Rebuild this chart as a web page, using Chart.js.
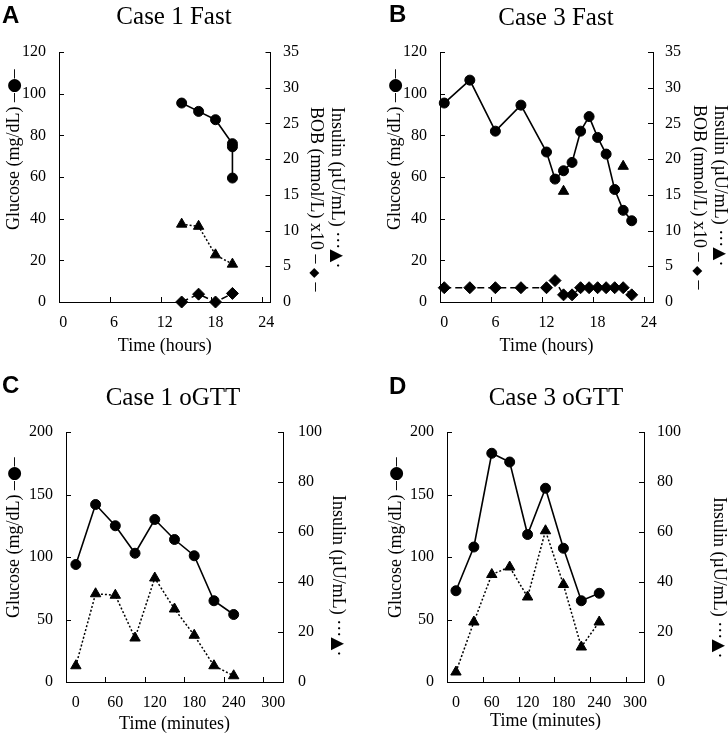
<!DOCTYPE html>
<html lang="en">
<head>
<meta charset="UTF-8">
<title>Case 1 / Case 3 fast and oGTT</title>
<script src="https://cdn.jsdelivr.net/npm/chart.js"></script>
<style>
  body { margin: 0; width: 728px; height: 739px; position: relative; overflow: hidden; background: #fff;
         font-family: 'Liberation Serif', 'Times New Roman', serif; color: #000; }
  canvas { position: absolute; }
  .letter { position: absolute; font: bold 24px 'Liberation Sans', Arial, sans-serif; line-height: 24px; }
  .title { position: absolute; font-size: 25px; line-height: 25px; white-space: nowrap; transform: translateX(-50%); }
  .ytl, .ytr { position: absolute; font-size: 18px; line-height: 21px; white-space: nowrap; transform-origin: 0 0; }
  .ytl { transform: rotate(-90deg); }
  .ytr { transform: rotate(90deg); }
  .sym { font-family: 'DejaVu Sans', sans-serif; font-size: 17px; }
  .dia { font-family: 'DejaVu Sans', sans-serif; font-size: 13px; }
</style>
</head>
<body>
<canvas id="cA" width="364" height="370" style="left:0;top:0"></canvas>
<canvas id="cB" width="364" height="370" style="left:364px;top:0"></canvas>
<canvas id="cC" width="364" height="369" style="left:0;top:370px"></canvas>
<canvas id="cD" width="364" height="369" style="left:364px;top:370px"></canvas>

<div class="letter" style="left:2px;top:3px">A</div>
<div class="letter" style="left:389px;top:2px">B</div>
<div class="letter" style="left:2px;top:373px">C</div>
<div class="letter" style="left:389px;top:374px">D</div>

<div class="title" style="left:174px;top:3px">Case 1 Fast</div>
<div class="title" style="left:556px;top:4px">Case 3 Fast</div>
<div class="title" style="left:173px;top:384px">Case 1 oGTT</div>
<div class="title" style="left:556px;top:384px">Case 3 oGTT</div>

<div class="ytl" style="left:2.5px;top:230px">Glucose (mg/dL) –<span class="sym">●</span>–</div>
<div class="ytl" style="left:383.5px;top:230px">Glucose (mg/dL) –<span class="sym">●</span>–</div>
<div class="ytl" style="left:2.5px;top:618px">Glucose (mg/dL) –<span class="sym">●</span>–</div>
<div class="ytl" style="left:385px;top:618px">Glucose (mg/dL) –<span class="sym">●</span>–</div>

<div class="ytr" style="left:347.5px;top:107px">Insulin (µU/mL) ···<span class="sym">▲</span>·<br>BOB (mmol/L) x10 – <span class="dia">◆</span> –</div>
<div class="ytr" style="left:730.5px;top:105px">Insulin (µU/mL) ···<span class="sym">▲</span>·<br>BOB (mmol/L) x10 – <span class="dia">◆</span> –</div>
<div class="ytr" style="left:348.5px;top:495px">Insulin (µU/mL) ···<span class="sym">▲</span>·</div>
<div class="ytr" style="left:729.5px;top:497px">Insulin (µU/mL) ···<span class="sym">▲</span>·</div>

<script>
// tick labels
const fastTicks = [0, 6, 12, 18, 24];
const gttTicks = [0, 60, 120, 180, 240, 300];

// Case 1 fast (hours)
const c1FastGlucoseTime = [14, 16, 18, 20, 20, 20];
const c1FastGlucose = [95.5, 91.5, 87.5, 76, 74.5, 59.5];
const c1FastInsulinTime = [14, 16, 18, 20];
const c1FastInsulin = [10.9, 10.6, 6.6, 5.3];
const c1FastBobTime = [14, 16, 18, 20];
const c1FastBob = [0, 1.1, 0, 1.2];

// Case 3 fast (hours)
const c3FastGlucoseTime = [0, 3, 6, 9, 12, 13, 14, 15, 16, 17, 18, 19, 20, 21, 22];
const c3FastGlucose = [95.5, 106.5, 82, 94.5, 72, 59, 63, 67, 82, 89, 79, 71, 54, 44, 39];
const c3FastInsulinTime = [14, 21];
const c3FastInsulin = [15.5, 19];
const c3FastBobTime = [0, 3, 6, 9, 12, 13, 14, 15, 16, 17, 18, 19, 20, 21, 22];
const c3FastBob = [2, 2, 2, 2, 2, 3, 1, 1, 2, 2, 2, 2, 2, 2, 1];

// oGTT (minutes)
const gttTime = [0, 30, 60, 90, 120, 150, 180, 210, 240];
const c1GttGlucose = [94, 142, 125, 103, 130, 114, 101, 65, 54];
const c1GttInsulin = [6.5, 35.3, 34.7, 17.6, 41.6, 29.2, 18.7, 6.5, 2.5];
const c3GttGlucose = [73, 108, 183, 176, 118, 155, 107, 65, 71];
const c3GttInsulin = [4, 24, 43, 46, 34, 60.5, 39, 14, 24];

const pts = (xs, ys) => xs.map((x, i) => ({ x: x, y: ys[i] }));

const tickFont = { family: "'Liberation Serif', 'Times New Roman', serif", size: 16 };
const titleFont = { family: "'Liberation Serif', 'Times New Roman', serif", size: 18 };

function glucoseSet(data) {
    return { data: data, yAxisID: 'y', showLine: true, clip: false,
        borderColor: '#000', backgroundColor: '#000', borderWidth: 1.6,
        pointStyle: 'circle', pointRadius: 5, pointBorderWidth: 1 };
}
function insulinSet(data, line) {
    return { data: data, yAxisID: 'y1', showLine: line, clip: false,
        borderColor: '#000', backgroundColor: '#000', borderWidth: 1.5, borderDash: [2, 2],
        pointStyle: 'triangle', pointRadius: 6, pointBorderWidth: 1 };
}
function bobSet(data) {
    return { data: data, yAxisID: 'y1', showLine: true, clip: false,
        borderColor: '#000', backgroundColor: '#000', borderWidth: 1.5, borderDash: [7, 4],
        pointStyle: 'rectRot', pointRadius: 6, pointBorderWidth: 1 };
}

// tick marks drawn inside the plot, like the original
const innerTicks = {
    id: 'innerTicks',
    afterDraw(chart, args, opts) {
        const { ctx, chartArea: a, scales } = chart;
        const len = 5;
        ctx.save();
        ctx.strokeStyle = '#000';
        ctx.lineWidth = 1;
        ctx.beginPath();
        scales.y.ticks.forEach(t => {
            const p = Math.round(scales.y.getPixelForValue(t.value)) + 0.5;
            ctx.moveTo(a.left, p); ctx.lineTo(a.left + len, p);
        });
        scales.y1.ticks.forEach(t => {
            const p = Math.round(scales.y1.getPixelForValue(t.value)) + 0.5;
            ctx.moveTo(a.right, p); ctx.lineTo(a.right - len, p);
        });
        for (let v = scales.x.min + opts.xStep; v < scales.x.max; v += opts.xStep) {
            const p = Math.round(scales.x.getPixelForValue(v)) + 0.5;
            ctx.moveTo(p, a.bottom); ctx.lineTo(p, a.bottom - len);
        }
        ctx.stroke();
        ctx.restore();
    }
};

function fix(s, key, v) {
    s[key] = v;
    s.paddingTop = 0; s.paddingBottom = 0; s.paddingLeft = 0; s.paddingRight = 0;
}

function panel(o) {
    const cv = document.getElementById(o.id);
    const W = cv.width, H = cv.height;
    const a = o.area;
    const axisLine = { display: true, color: '#000', width: 1 };
    new Chart(cv, {
        type: 'scatter',
        data: { datasets: o.datasets },
        options: {
            responsive: false,
            animation: false,
            layout: { padding: { top: a.t, left: 0, right: 0, bottom: 0 } },
            plugins: { legend: { display: false }, tooltip: { enabled: false }, innerTicks: { xStep: o.xStep } },
            scales: {
                x: {
                    type: 'linear', position: 'bottom', min: o.xMin, max: o.xMax,
                    afterBuildTicks: s => { s.ticks = o.xTicks.map(v => ({ value: v })); },
                    afterFit: s => fix(s, 'height', H - a.b),
                    grid: { display: false, drawTicks: false },
                    border: axisLine,
                    ticks: { color: '#000', font: tickFont, padding: 11, maxRotation: 0, autoSkip: false },
                    title: { display: true, text: o.xTitle, color: '#000', font: titleFont,
                             padding: { top: 0, bottom: o.xTitlePad } }
                },
                y: {
                    type: 'linear', position: 'left', min: 0, max: o.yMax,
                    afterFit: s => fix(s, 'width', a.l),
                    grid: { display: false, drawTicks: false },
                    border: axisLine,
                    ticks: { stepSize: o.yStep, color: '#000', font: tickFont, padding: 13 }
                },
                y1: {
                    type: 'linear', position: 'right', min: 0, max: o.y1Max,
                    afterFit: s => fix(s, 'width', W - a.r),
                    grid: { display: false, drawTicks: false },
                    border: axisLine,
                    ticks: { stepSize: o.y1Step, color: '#000', font: tickFont, padding: o.y1Pad }
                }
            }
        },
        plugins: [innerTicks]
    });
}

panel({
    id: 'cA', area: { l: 59, r: 270.5, t: 52, b: 302 },
    xMin: -0.5, xMax: 24.5, xTicks: fastTicks, xStep: 6, xTitle: 'Time (hours)', xTitlePad: 12.5,
    yMax: 120, yStep: 20, y1Max: 35, y1Step: 5, y1Pad: 12.5,
    datasets: [
        bobSet(pts(c1FastBobTime, c1FastBob)),
        insulinSet(pts(c1FastInsulinTime, c1FastInsulin), true),
        glucoseSet(pts(c1FastGlucoseTime, c1FastGlucose))
    ]
});

panel({
    id: 'cB', area: { l: 76, r: 289, t: 52, b: 302 },
    xMin: -0.5, xMax: 24.5, xTicks: fastTicks, xStep: 6, xTitle: 'Time (hours)', xTitlePad: 13,
    yMax: 120, yStep: 20, y1Max: 35, y1Step: 5, y1Pad: 12,
    datasets: [
        bobSet(pts(c3FastBobTime, c3FastBob)),
        insulinSet(pts(c3FastInsulinTime, c3FastInsulin), false),
        glucoseSet(pts(c3FastGlucoseTime, c3FastGlucose))
    ]
});

panel({
    id: 'cC', area: { l: 66, r: 283, t: 62, b: 312 },
    xMin: -15, xMax: 315, xTicks: gttTicks, xStep: 60, xTitle: 'Time (minutes)', xTitlePad: 4,
    yMax: 200, yStep: 50, y1Max: 100, y1Step: 20, y1Pad: 15,
    datasets: [
        insulinSet(pts(gttTime, c1GttInsulin), true),
        glucoseSet(pts(gttTime, c1GttGlucose))
    ]
});

panel({
    id: 'cD', area: { l: 83, r: 280, t: 62, b: 312 },
    xMin: -15, xMax: 315, xTicks: gttTicks, xStep: 60, xTitle: 'Time (minutes)', xTitlePad: 7,
    yMax: 200, yStep: 50, y1Max: 100, y1Step: 20, y1Pad: 13,
    datasets: [
        insulinSet(pts(gttTime, c3GttInsulin), true),
        glucoseSet(pts(gttTime, c3GttGlucose))
    ]
});
</script>
</body>
</html>
